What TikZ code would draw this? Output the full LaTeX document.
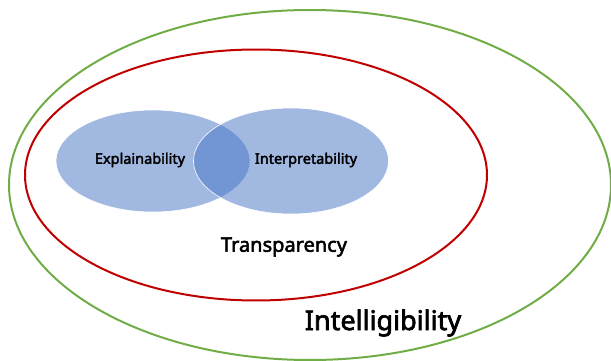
\documentclass[tikz,border=0pt]{standalone}
\usepackage{fontspec}
\setmainfont{Noto Sans}
\newfontfamily\termfont[FakeBold=2.5]{Noto Sans}
\usetikzlibrary{shapes.geometric}
\definecolor{ringgreen}{RGB}{112,173,71}
\definecolor{ringred}{RGB}{192,0,0}
\definecolor{blobblue}{RGB}{68,114,196}
\tikzset{
  ring/.style={draw, ellipse, line width=2pt, inner sep=0pt},
  blob/.style={ellipse, fill=blobblue, fill opacity=0.5, draw=white,
               line width=0.6pt, inner sep=0pt},
  term/.style={font=\termfont\fontsize{14.5}{17}\selectfont, text=black}
}
\begin{document}
\begin{tikzpicture}[x=1pt,y=-1pt]
\useasboundingbox (0,0) rectangle (611,361);

\draw (310,185) node[ring, color=ringgreen,
       minimum width=602pt, minimum height=350pt] (intel) {};
\draw (256,175) node[ring, color=ringred,
       minimum width=462pt, minimum height=251pt] (transp) {};

\draw (153,161) node[blob, minimum width=194pt, minimum height=102pt] (expl) {};
\draw (291,161) node[blob, minimum width=195pt, minimum height=106pt] (interp) {};

\draw (140,160) node[term] (explt) {Explainability};
\draw (306,160) node[term] (interpt) {Interpretability};
\draw (284,247) node[term, font=\termfont\fontsize{20}{24}\selectfont] (transpt) {Transparency};
\draw (383,323) node[term, font=\termfont\fontsize{27}{32}\selectfont] (intelt) {Intelligibility};
\end{tikzpicture}
\end{document}
